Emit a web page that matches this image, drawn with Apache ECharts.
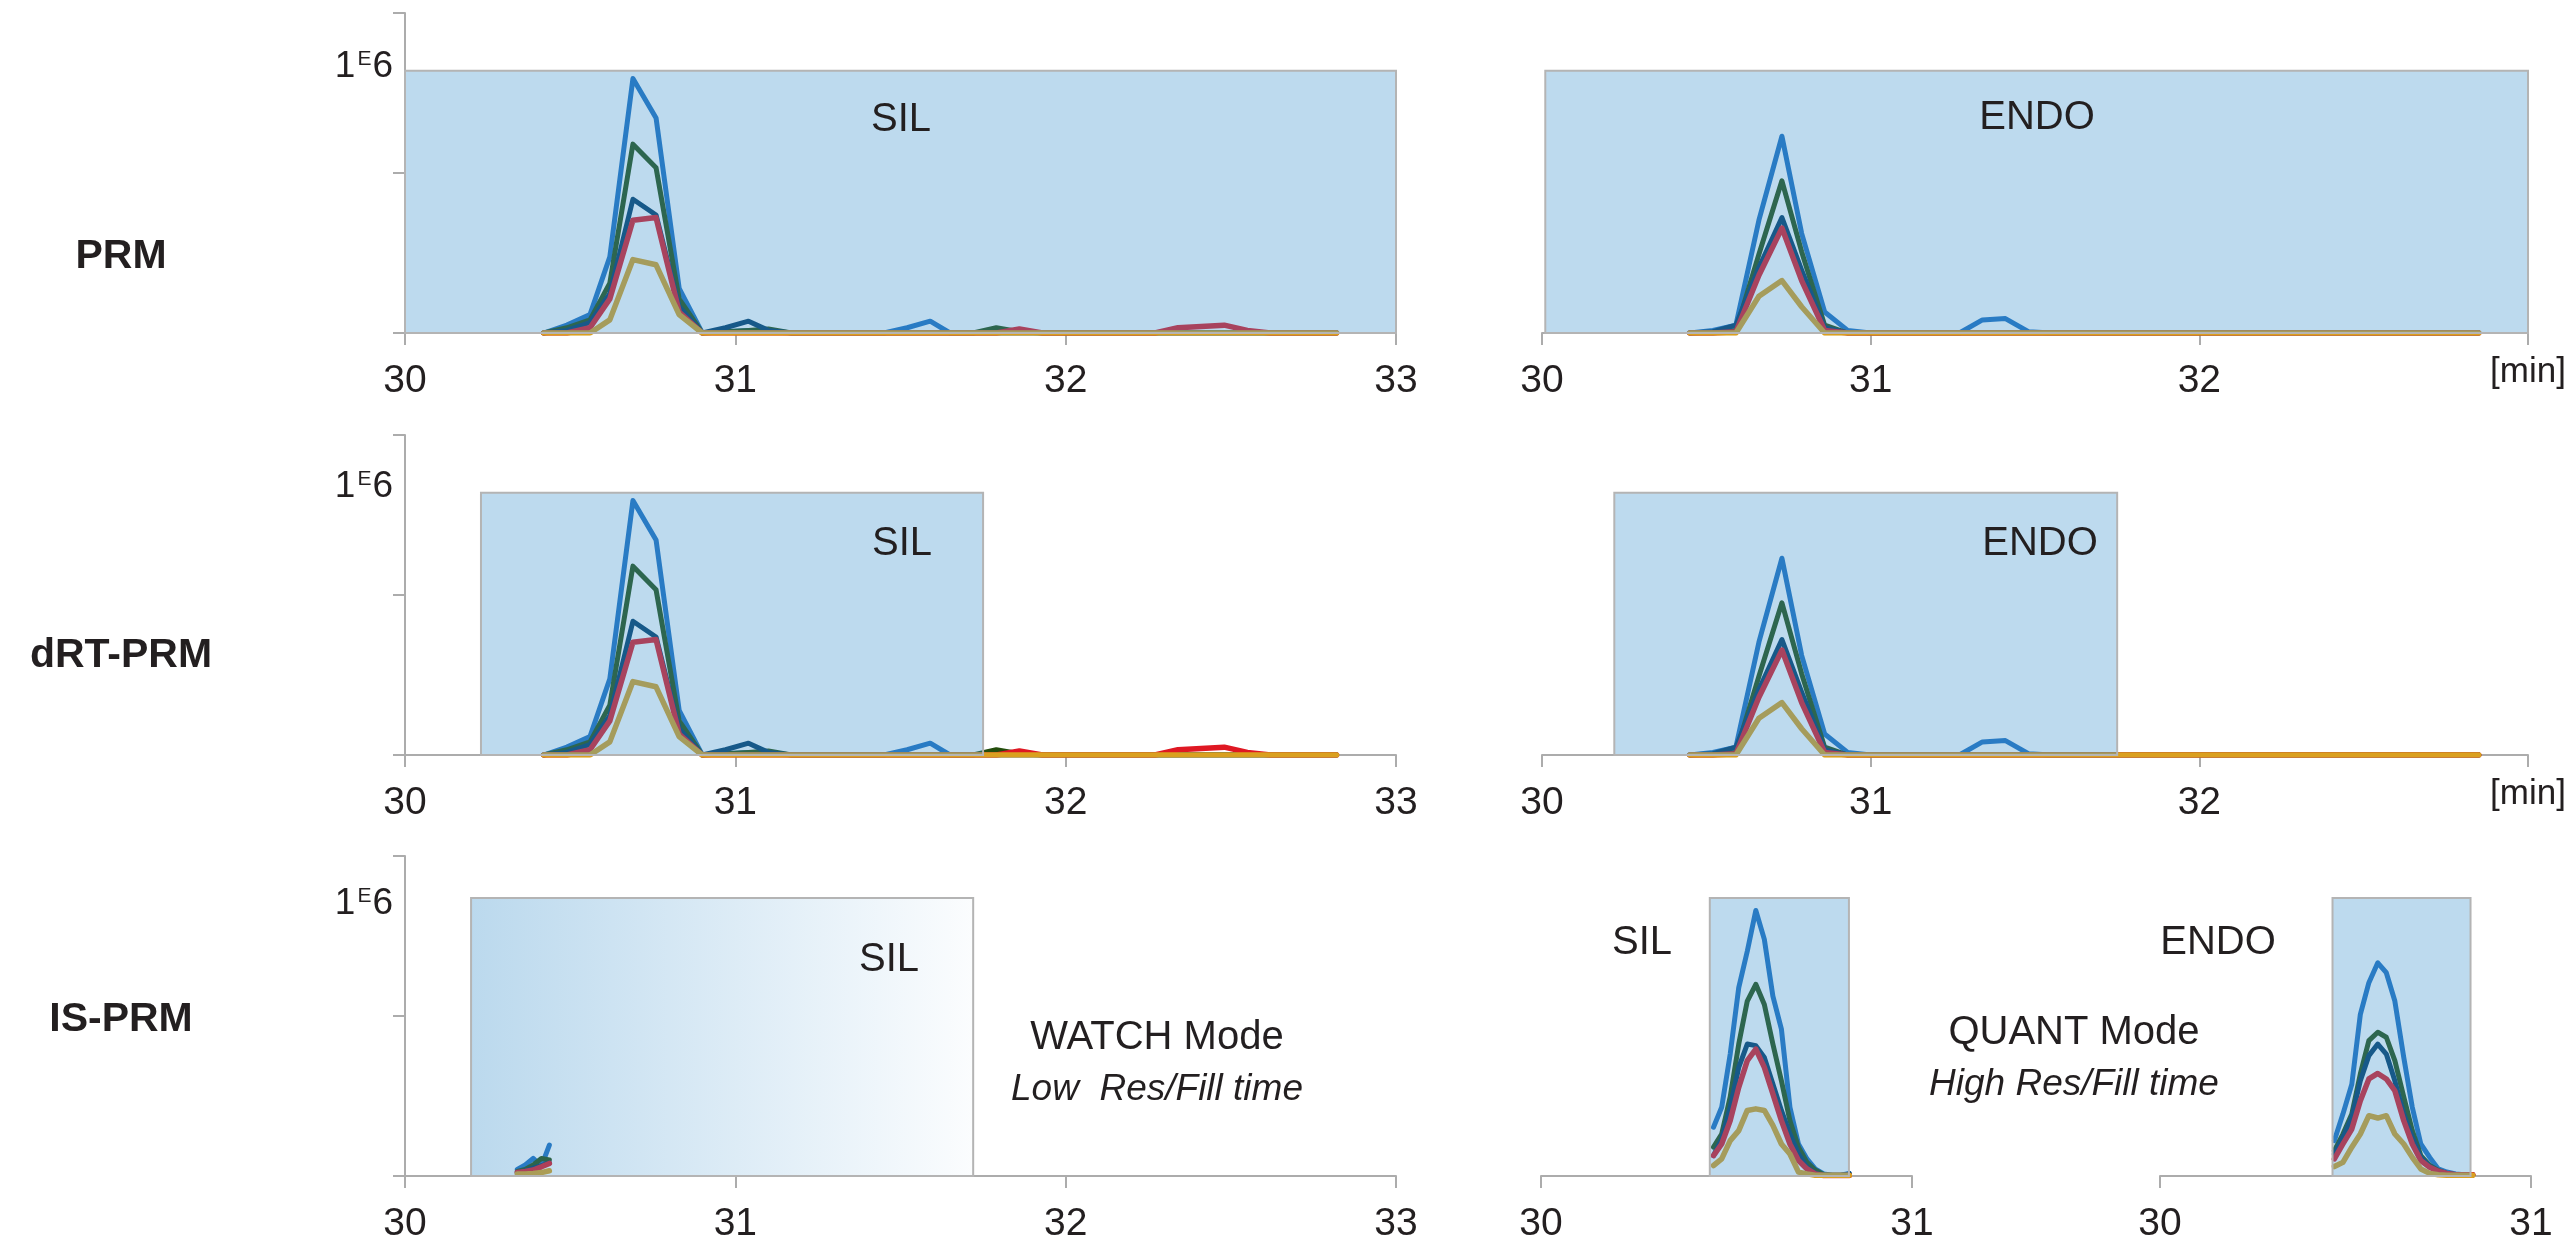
<!DOCTYPE html>
<html>
<head>
<meta charset="utf-8">
<script src="https://cdn.jsdelivr.net/npm/echarts@6/dist/echarts.min.js"></script>
<style>
html,body{margin:0;padding:0;background:#fff;}
#c{width:2572px;height:1252px;}
</style>
</head>
<body>
<div id="c"></div>
<script>
// ---------- time axes (min) ----------
const tSil = [30.42,30.49,30.56,30.62,30.69,30.76,30.83,30.90,30.97,31.04,31.10,31.17,31.24,31.31,31.38,31.45,31.52,31.59,31.65,31.72,31.79,31.86,31.93,32.00,32.07,32.13,32.20,32.27,32.34,32.41,32.48,32.55,32.62,32.68,32.75,32.82];
const tEndo = [30.45,30.52,30.59,30.66,30.73,30.79,30.86,30.93,31.00,31.07,31.14,31.20,31.27,31.34,31.41,31.48,31.55,31.62,31.68,31.75,31.82,31.89,31.96,32.03,32.10,32.16,32.23,32.30,32.37,32.44,32.51,32.58,32.65,32.71,32.78,32.85];
const tWatch = [30.340,30.364,30.388,30.413,30.437];
const tQSil = [30.465,30.487,30.510,30.533,30.556,30.579,30.602,30.625,30.648,30.671,30.694,30.717,30.739,30.762,30.785,30.808,30.831];
const tQEndo = [30.470,30.493,30.517,30.540,30.563,30.587,30.610,30.633,30.657,30.680,30.703,30.727,30.750,30.773,30.797,30.820,30.843];

// ---------- intensities (x 1E6) ----------
const silBlue  = [0,0.03,0.07,0.29,0.97,0.82,0.17,0,0.005,0.01,0.005,0,0,0,0,0,0.02,0.045,0,0,0,0,0,0,0,0,0,0,0,0,0,0,0,0,0,0];
const silGreen = [0,0.02,0.05,0.19,0.72,0.63,0.13,0,0.005,0.01,0.015,0,0,0,0,0,0,0,0,0,0.02,0.005,0,0,0,0,0,0,0,0,0,0,0,0,0,0];
const silNavy  = [0,0.01,0.04,0.15,0.51,0.45,0.10,0,0.02,0.045,0.01,0,0,0,0,0,0,0,0,0,0,0,0,0,0,0,0,0,0,0,0,0,0,0,0,0];
const silRed   = [0,0,0.02,0.13,0.43,0.44,0.08,0,0,0,0,0,0,0,0,0,0,0,0,0,0,0.015,0,0,0,0,0,0,0.02,0.025,0.03,0.01,0,0,0,0];
const silGold  = [0,0,0,0.05,0.28,0.26,0.07,0,0,0,0,0,0,0,0,0,0,0,0,0,0,0,0,0,0,0,0,0,0,0,0,0,0,0,0,0];

const endoBlue  = [0,0.01,0.03,0.43,0.75,0.38,0.08,0.01,0,0,0,0,0,0.05,0.055,0.005,0,0,0,0,0,0,0,0,0,0,0,0,0,0,0,0,0,0,0,0];
const endoGreen = [0,0,0.01,0.30,0.58,0.31,0.03,0,0,0,0,0,0,0,0,0,0,0,0,0,0,0,0,0,0,0,0,0,0,0,0,0,0,0,0,0];
const endoNavy  = [0,0.005,0.03,0.25,0.44,0.24,0.02,0,0,0,0,0,0,0,0,0,0,0,0,0,0,0,0,0,0,0,0,0,0,0,0,0,0,0,0,0];
const endoRed   = [0,0,0.005,0.22,0.40,0.20,0.01,0,0,0,0,0,0,0,0,0,0,0,0,0,0,0,0,0,0,0,0,0,0,0,0,0,0,0,0,0];
const endoGold  = [0,0,0,0.14,0.20,0.10,0,0,0,0,0,0,0,0,0,0,0,0,0,0,0,0,0,0,0,0,0,0,0,0,0,0,0,0,0,0];

const watchBlue  = [0.025,0.042,0.067,0.038,0.118];
const watchGreen = [0.017,0.025,0.042,0.067,0.061];
const watchNavy  = [0.012,0.020,0.030,0.040,0.050];
const watchRed   = [0.013,0.017,0.023,0.035,0.048];
const watchGold  = [0.008,0.008,0.010,0.013,0.020];

const qSilBlue  = [0.186,0.262,0.465,0.718,0.857,1.012,0.902,0.686,0.560,0.262,0.122,0.065,0.027,0.008,0.003,0.003,0.010];
const qSilGreen = [0.110,0.160,0.302,0.503,0.667,0.731,0.654,0.503,0.363,0.211,0.110,0.052,0.023,0.005,0.003,0.003,0.003];
const qSilNavy  = [0.078,0.141,0.262,0.414,0.503,0.497,0.452,0.351,0.250,0.160,0.084,0.033,0.010,0.003,0.002,0.002,0.008];
const qSilRed   = [0.078,0.122,0.211,0.338,0.440,0.484,0.414,0.313,0.211,0.122,0.059,0.027,0.008,0.002,0.002,0.002,0.002];
const qSilGold  = [0.040,0.065,0.135,0.173,0.250,0.256,0.250,0.193,0.122,0.084,0.015,0.008,0.003,0.003,0.003,0.003,0.003];

const qEndoBlue  = [0.135,0.236,0.350,0.616,0.737,0.813,0.775,0.667,0.452,0.262,0.122,0.071,0.027,0.015,0.008,0.005,0.003];
const qEndoGreen = [0.097,0.160,0.236,0.389,0.516,0.548,0.529,0.440,0.302,0.173,0.078,0.040,0.021,0.010,0.005,0.005,0.005];
const qEndoNavy  = [0.084,0.148,0.224,0.363,0.459,0.503,0.465,0.363,0.236,0.148,0.071,0.036,0.018,0.010,0.005,0.005,0.005];
const qEndoRed   = [0.065,0.122,0.179,0.287,0.370,0.391,0.370,0.325,0.211,0.122,0.059,0.033,0.018,0.010,0.005,0.005,0.005];
const qEndoGold  = [0.036,0.052,0.110,0.160,0.230,0.221,0.230,0.160,0.122,0.071,0.027,0.010,0.005,0.003,0.003,0.003,0.003];

// acquisition windows [start, end, top] (min, min, x1E6)
const winPrmSil   = [30.00, 33.00, 1.0];
const winPrmEndo  = [30.01, 33.00, 1.0];
const winDrtSil   = [30.23, 31.75, 1.0];
const winDrtEndo  = [30.22, 31.75, 1.0];
const winWatch    = [30.20, 31.72, 1.06];
const winQuantSil = [30.455, 30.83, 1.06];
const winQuantEndo= [30.465, 30.837, 1.06];

// x tick labels
const xTicks3 = [30, 31, 32, 33];
const xTicks1 = [30, 31];

// ---------- styling ----------
const FONT = '"Liberation Sans", Arial, Helvetica, sans-serif';
const TXT = '#231f20';
const AXIS = '#acacac';
const COLORS = ['#1d6ebf', '#234d0c', '#003a65', '#df1823', '#daa01f'];
const WIDTHS = [5, 5, 5, 5.5, 5.5];
const Y_MAX = 1.22, Y_INT = 0.61;

const grids = [
  {left: 405,  top: 13,  width: 991, height: 320},  // 0 PRM SIL
  {left: 1542, top: 13,  width: 986, height: 320},  // 1 PRM ENDO
  {left: 405,  top: 435, width: 991, height: 320},  // 2 dRT SIL
  {left: 1542, top: 435, width: 986, height: 320},  // 3 dRT ENDO
  {left: 405,  top: 856, width: 991, height: 320},  // 4 IS WATCH
  {left: 1541, top: 856, width: 371, height: 320},  // 5 IS QUANT SIL
  {left: 2160, top: 856, width: 371, height: 320}   // 6 IS QUANT ENDO
];

function xAxis(gi, ticks, minLabel) {
  return {
    type: 'value', gridIndex: gi,
    min: ticks[0], max: ticks[ticks.length - 1], interval: 1,
    axisLine: {show: true, lineStyle: {color: AXIS, width: 2}},
    axisTick: {show: true, length: 12, lineStyle: {color: AXIS, width: 2}},
    splitLine: {show: false},
    axisLabel: {
      show: true, margin: 29, fontSize: 39, fontFamily: FONT, color: TXT,
      formatter: function (v) { return (minLabel && v === ticks[ticks.length - 1]) ? '{m|[min]}' : String(v); },
      rich: {m: {fontSize: 35, lineHeight: 20, fontFamily: FONT, color: TXT}}
    }
  };
}
function yAxis(gi, visible) {
  return {
    type: 'value', gridIndex: gi, min: 0, max: Y_MAX, interval: Y_INT,
    show: visible,
    axisLine: {show: true, lineStyle: {color: AXIS, width: 2}},
    axisTick: {show: true, length: 12, lineStyle: {color: AXIS, width: 2}},
    axisLabel: {show: false},
    splitLine: {show: false}
  };
}

const xAxes = [
  xAxis(0, xTicks3, false), xAxis(1, xTicks3, true),
  xAxis(2, xTicks3, false), xAxis(3, xTicks3, true),
  xAxis(4, xTicks3, false), xAxis(5, xTicks1, false), xAxis(6, xTicks1, false)
];
const yAxes = [yAxis(0, true), yAxis(1, false), yAxis(2, true), yAxis(3, false), yAxis(4, true), yAxis(5, false), yAxis(6, false)];

const series = [];
function addLines(gi, times, sets) {
  sets.forEach(function (vals, i) {
    series.push({
      type: 'line', xAxisIndex: gi, yAxisIndex: gi,
      data: times.map(function (t, k) { return [t, vals[k]]; }),
      symbol: 'none', z: 2, silent: true,
      lineStyle: {color: COLORS[i], width: WIDTHS[i], join: 'round', cap: 'round'}
    });
  });
}
addLines(0, tSil,  [silBlue, silGreen, silNavy, silRed, silGold]);
addLines(1, tEndo, [endoBlue, endoGreen, endoNavy, endoRed, endoGold]);
addLines(2, tSil,  [silBlue, silGreen, silNavy, silRed, silGold]);
addLines(3, tEndo, [endoBlue, endoGreen, endoNavy, endoRed, endoGold]);
addLines(4, tWatch, [watchBlue, watchGreen, watchNavy, watchRed, watchGold]);
addLines(5, tQSil, [qSilBlue, qSilGreen, qSilNavy, qSilRed, qSilGold]);
addLines(6, tQEndo, [qEndoBlue, qEndoGreen, qEndoNavy, qEndoRed, qEndoGold]);

const OVERLAY = 'rgba(66,149,206,0.35)';
const GRAD = {type: 'linear', x: 0, y: 0, x2: 1, y2: 0, colorStops: [
  {offset: 0, color: 'rgba(66,149,206,0.36)'},
  {offset: 1, color: 'rgba(66,149,206,0.02)'}
]};
function addWindow(gi, win, fill) {
  series.push({
    type: 'custom', xAxisIndex: gi, yAxisIndex: gi, z: 5, silent: true,
    data: [win], encode: {x: [0, 1], y: 2},
    renderItem: function (params, api) {
      const p0 = api.coord([api.value(0), api.value(2)]);
      const p1 = api.coord([api.value(1), 0]);
      return {
        type: 'rect',
        shape: {x: p0[0], y: p0[1], width: p1[0] - p0[0], height: p1[1] - p0[1]},
        style: {fill: fill, stroke: '#b4b4b4', lineWidth: 2}
      };
    }
  });
}
addWindow(0, winPrmSil, OVERLAY);
addWindow(1, winPrmEndo, OVERLAY);
addWindow(2, winDrtSil, OVERLAY);
addWindow(3, winDrtEndo, OVERLAY);
addWindow(4, winWatch, GRAD);
addWindow(5, winQuantSil, OVERLAY);
addWindow(6, winQuantEndo, OVERLAY);

function txt(s, x, y, size, opts) {
  opts = opts || {};
  return {
    type: 'text', x: x, y: y, z: 100, silent: true,
    style: {
      text: s, fill: TXT, align: opts.align || 'center', verticalAlign: 'middle',
      font: (opts.italic ? 'italic ' : '') + (opts.bold ? 'bold ' : '') + size + 'px ' + FONT
    }
  };
}
function e6(y) {
  return {
    type: 'text', x: 393, y: y, z: 100, silent: true,
    style: {
      text: '{a|1}{b|E}{a|6}', align: 'right', verticalAlign: 'middle',
      rich: {
        a: {fontSize: 37, lineHeight: 36, fontFamily: FONT, fill: TXT, color: TXT},
        b: {fontSize: 21, lineHeight: 36, fontFamily: FONT, fill: TXT, color: TXT, verticalAlign: 'top', padding: [0, 1, 0, 2]}
      }
    }
  };
}

const graphics = [
  txt('PRM', 121, 257, 41, {bold: true}),
  txt('dRT-PRM', 121, 656, 41, {bold: true}),
  txt('IS-PRM', 121, 1020, 41, {bold: true}),
  e6(67), e6(487), e6(904),
  txt('SIL', 901, 120, 40),
  txt('ENDO', 2037, 118, 40),
  txt('SIL', 902, 544, 40),
  txt('ENDO', 2040, 544, 40),
  txt('SIL', 889, 960, 40),
  txt('WATCH Mode', 1157, 1038, 40),
  txt('Low  Res/Fill time', 1157, 1090, 37, {italic: true}),
  txt('SIL', 1642, 943, 40),
  txt('ENDO', 2218, 943, 40),
  txt('QUANT Mode', 2074, 1033, 40),
  txt('High Res/Fill time', 2074, 1085, 37, {italic: true})
];

const chart = echarts.init(document.getElementById('c'), null, {renderer: 'canvas'});
chart.setOption({
  animation: false,
  backgroundColor: '#ffffff',
  textStyle: {fontFamily: FONT},
  grid: grids,
  xAxis: xAxes,
  yAxis: yAxes,
  series: series,
  graphic: graphics
});
</script>
</body>
</html>
